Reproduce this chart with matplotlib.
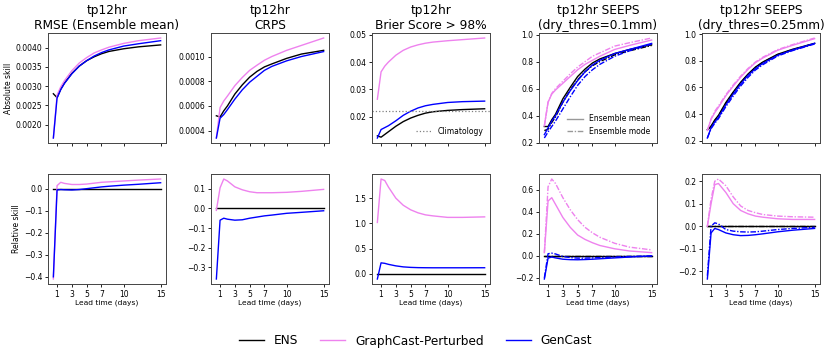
import matplotlib
matplotlib.use("Agg")
import matplotlib.pyplot as plt
from matplotlib.lines import Line2D

# lead times (days)
lt = [0.5, 1, 1.5, 2, 3, 4, 5, 6, 7, 8, 10, 12, 15]
xticks = [1, 3, 5, 7, 10, 15]

# --- RMSE (ensemble mean)
rmse_ens = [0.00280, 0.00270, 0.00292, 0.00308, 0.00333, 0.00352, 0.00366, 0.00376, 0.00384, 0.00390, 0.00397, 0.00402, 0.00407]
rmse_gcp = [0.00165, 0.00277, 0.00298, 0.00314, 0.00340, 0.00360, 0.00374, 0.00386, 0.00394, 0.00401, 0.00411, 0.00418, 0.00425]
rmse_gen = [0.00165, 0.00269, 0.00291, 0.00307, 0.00332, 0.00352, 0.00366, 0.00378, 0.00387, 0.00394, 0.00404, 0.00410, 0.00418]
rmse_gcp_rel = [-0.41, 0.015, 0.03, 0.025, 0.02, 0.02, 0.022, 0.026, 0.03, 0.032, 0.036, 0.04, 0.045]
rmse_gen_rel = [-0.40, -0.005, -0.003, -0.004, -0.005, -0.003, 0.001, 0.005, 0.009, 0.012, 0.017, 0.021, 0.028]

# --- CRPS
crps_ens = [0.00052, 0.00051, 0.00056, 0.00060, 0.000696, 0.00077, 0.000833, 0.00088, 0.000916, 0.00094, 0.000985, 0.00102, 0.00105]
crps_gcp = [0.00034, 0.000586, 0.00064, 0.00068, 0.000764, 0.00083, 0.000888, 0.00093, 0.00097, 0.00100, 0.00105, 0.00109, 0.00115]
crps_gen = [0.00034, 0.00050, 0.00053, 0.00057, 0.000655, 0.00073, 0.000792, 0.00084, 0.000888, 0.00092, 0.000965, 0.00100, 0.00104]
crps_gcp_rel = [-0.01, 0.105, 0.15, 0.14, 0.11, 0.095, 0.085, 0.08, 0.08, 0.08, 0.082, 0.087, 0.097]
crps_gen_rel = [-0.36, -0.06, -0.05, -0.055, -0.06, -0.058, -0.05, -0.044, -0.038, -0.034, -0.025, -0.02, -0.012]

# --- Brier score > 98%
brier_ens = [0.0130, 0.0125, 0.0135, 0.0145, 0.0165, 0.0182, 0.0195, 0.0205, 0.0213, 0.0218, 0.0223, 0.0226, 0.0229]
brier_gcp = [0.0264, 0.0364, 0.0385, 0.0400, 0.0425, 0.0443, 0.0455, 0.0463, 0.0469, 0.0473, 0.0478, 0.0482, 0.0488]
brier_gen = [0.0122, 0.0153, 0.0160, 0.0167, 0.0185, 0.0205, 0.0220, 0.0232, 0.0240, 0.0245, 0.0252, 0.0255, 0.0257]
brier_clim = 0.0221
brier_gcp_rel = [1.02, 1.88, 1.85, 1.72, 1.50, 1.36, 1.27, 1.21, 1.17, 1.15, 1.12, 1.12, 1.13]
brier_gen_rel = [-0.10, 0.22, 0.21, 0.19, 0.16, 0.14, 0.13, 0.125, 0.123, 0.122, 0.122, 0.122, 0.123]

# --- SEEPS dry_thres=0.1mm
s1_ens_mean = [0.32, 0.32, 0.37, 0.41, 0.525, 0.61, 0.69, 0.745, 0.79, 0.82, 0.86, 0.89, 0.925]
s1_ens_mode = [0.29, 0.30, 0.35, 0.39, 0.50, 0.59, 0.665, 0.725, 0.77, 0.80, 0.85, 0.88, 0.92]
s1_gcp_mean = [0.325, 0.50, 0.56, 0.59, 0.64, 0.69, 0.74, 0.78, 0.81, 0.84, 0.89, 0.92, 0.96]
s1_gcp_mode = [0.325, 0.50, 0.565, 0.60, 0.655, 0.71, 0.76, 0.80, 0.84, 0.865, 0.915, 0.94, 0.975]
s1_gen_mean = [0.26, 0.31, 0.36, 0.40, 0.50, 0.585, 0.66, 0.725, 0.775, 0.81, 0.86, 0.89, 0.935]
s1_gen_mode = [0.235, 0.28, 0.32, 0.36, 0.45, 0.54, 0.625, 0.69, 0.74, 0.78, 0.84, 0.88, 0.93]
s1_gcp_mean_rel = [0.03, 0.50, 0.53, 0.47, 0.35, 0.26, 0.19, 0.15, 0.12, 0.095, 0.065, 0.045, 0.03]
s1_gcp_mode_rel = [0.03, 0.63, 0.70, 0.66, 0.53, 0.42, 0.33, 0.26, 0.21, 0.17, 0.115, 0.08, 0.055]
s1_gen_mean_rel = [-0.21, -0.02, -0.01, -0.018, -0.03, -0.034, -0.035, -0.033, -0.03, -0.026, -0.018, -0.01, 0.0]
s1_gen_mode_rel = [-0.20, 0.02, 0.025, 0.018, -0.005, -0.015, -0.02, -0.02, -0.018, -0.015, -0.01, -0.005, 0.0]

# --- SEEPS dry_thres=0.25mm
s2_ens_mean = [0.284, 0.31, 0.355, 0.39, 0.486, 0.565, 0.638, 0.70, 0.752, 0.79, 0.848, 0.885, 0.93]
s2_ens_mode = [0.28, 0.305, 0.35, 0.385, 0.48, 0.56, 0.633, 0.695, 0.748, 0.787, 0.845, 0.882, 0.928]
s2_gcp_mean = [0.276, 0.36, 0.41, 0.45, 0.537, 0.61, 0.676, 0.735, 0.785, 0.82, 0.878, 0.915, 0.965]
s2_gcp_mode = [0.276, 0.365, 0.42, 0.46, 0.545, 0.618, 0.684, 0.742, 0.79, 0.826, 0.883, 0.92, 0.97]
s2_gen_mean = [0.22, 0.296, 0.34, 0.375, 0.468, 0.55, 0.625, 0.69, 0.74, 0.78, 0.84, 0.88, 0.93]
s2_gen_mode = [0.22, 0.29, 0.33, 0.365, 0.455, 0.535, 0.61, 0.675, 0.73, 0.77, 0.835, 0.875, 0.925]
s2_gcp_mean_rel = [0.0, 0.10, 0.185, 0.19, 0.15, 0.10, 0.07, 0.055, 0.045, 0.04, 0.033, 0.03, 0.03]
s2_gcp_mode_rel = [0.0, 0.12, 0.20, 0.21, 0.18, 0.13, 0.09, 0.07, 0.06, 0.052, 0.045, 0.042, 0.04]
s2_gen_mean_rel = [-0.235, -0.03, -0.01, -0.015, -0.03, -0.038, -0.042, -0.041, -0.038, -0.034, -0.025, -0.018, -0.01]
s2_gen_mode_rel = [-0.22, 0.0, 0.015, 0.01, -0.015, -0.022, -0.025, -0.026, -0.025, -0.022, -0.015, -0.01, -0.005]

titles = ["tp12hr\nRMSE (Ensemble mean)", "tp12hr\nCRPS", "tp12hr\nBrier Score > 98%",
          "tp12hr SEEPS\n(dry_thres=0.1mm)", "tp12hr SEEPS\n(dry_thres=0.25mm)"]

C_ENS = "black"
C_GCP = "violet"
C_GEN = "blue"
DASHDOT = (0, (4, 1.2, 1, 1.2))
LW = 1.0
FS = 5.5

fig = plt.figure(figsize=(8.31, 3.59), dpi=100)
lefts = [48, 211, 372, 539, 702]
W, H = 831.0, 359.0
axw = 118 / W
axh = 110 / H

top_axes = []
bot_axes = []
for l in lefts:
    top_axes.append(fig.add_axes([l / W, 1 - 143 / H, axw, axh]))
    bot_axes.append(fig.add_axes([l / W, 1 - 284 / H, axw, axh]))

zeros = [0.0] * len(lt)

# absolute skill row
a = top_axes
a[0].plot(lt, rmse_ens, color=C_ENS, lw=LW)
a[0].plot(lt, rmse_gcp, color=C_GCP, lw=LW)
a[0].plot(lt, rmse_gen, color=C_GEN, lw=LW)

a[1].plot(lt, crps_ens, color=C_ENS, lw=LW)
a[1].plot(lt, crps_gcp, color=C_GCP, lw=LW)
a[1].plot(lt, crps_gen, color=C_GEN, lw=LW)

a[2].plot(lt, brier_ens, color=C_ENS, lw=LW)
a[2].plot(lt, brier_gcp, color=C_GCP, lw=LW)
a[2].plot(lt, brier_gen, color=C_GEN, lw=LW)
a[2].axhline(brier_clim, color="gray", ls=":", lw=0.9, label="Climatology")
a[2].legend(loc="lower right", fontsize=FS, frameon=False)

for ax, ens_m, ens_d, gcp_m, gcp_d, gen_m, gen_d in [
        (a[3], s1_ens_mean, s1_ens_mode, s1_gcp_mean, s1_gcp_mode, s1_gen_mean, s1_gen_mode),
        (a[4], s2_ens_mean, s2_ens_mode, s2_gcp_mean, s2_gcp_mode, s2_gen_mean, s2_gen_mode)]:
    ax.plot(lt, ens_m, color=C_ENS, lw=LW)
    ax.plot(lt, ens_d, color=C_ENS, lw=LW, ls=DASHDOT)
    ax.plot(lt, gcp_m, color=C_GCP, lw=LW)
    ax.plot(lt, gcp_d, color=C_GCP, lw=LW, ls=DASHDOT)
    ax.plot(lt, gen_m, color=C_GEN, lw=LW)
    ax.plot(lt, gen_d, color=C_GEN, lw=LW, ls=DASHDOT)

handles = [Line2D([], [], color="gray", lw=LW, alpha=0.8),
           Line2D([], [], color="gray", lw=LW, ls=DASHDOT, alpha=0.8)]
a[3].legend(handles, ["Ensemble mean", "Ensemble mode"], loc="lower right",
            fontsize=FS, frameon=False)

# relative skill row
b = bot_axes
for ax, gcp, gen in [(b[0], rmse_gcp_rel, rmse_gen_rel),
                     (b[1], crps_gcp_rel, crps_gen_rel),
                     (b[2], brier_gcp_rel, brier_gen_rel)]:
    ax.plot(lt, zeros, color=C_ENS, lw=LW)
    ax.plot(lt, gcp, color=C_GCP, lw=LW)
    ax.plot(lt, gen, color=C_GEN, lw=LW)

for ax, gm, gd, bm, bd in [(b[3], s1_gcp_mean_rel, s1_gcp_mode_rel, s1_gen_mean_rel, s1_gen_mode_rel),
                           (b[4], s2_gcp_mean_rel, s2_gcp_mode_rel, s2_gen_mean_rel, s2_gen_mode_rel)]:
    ax.plot(lt, zeros, color=C_ENS, lw=LW)
    ax.plot(lt, zeros, color=C_ENS, lw=LW, ls=DASHDOT)
    ax.plot(lt, gm, color=C_GCP, lw=LW)
    ax.plot(lt, gd, color=C_GCP, lw=LW, ls=DASHDOT)
    ax.plot(lt, bm, color=C_GEN, lw=LW)
    ax.plot(lt, bd, color=C_GEN, lw=LW, ls=DASHDOT)

for i in range(5):
    top_axes[i].set_title(titles[i], fontsize=8.7, pad=3)
    top_axes[i].set_xticks(xticks)
    top_axes[i].set_xticklabels([])
    bot_axes[i].set_xticks(xticks)
    bot_axes[i].set_xlabel("Lead time (days)", fontsize=5.4, labelpad=1)
    for ax in (top_axes[i], bot_axes[i]):
        ax.tick_params(labelsize=FS, length=2.5, width=0.6, pad=1.5)
        for s in ax.spines.values():
            s.set_linewidth(0.7)
            s.set_color("#444444")

top_axes[0].set_ylabel("Absolute skill", fontsize=FS, labelpad=2)
bot_axes[0].set_ylabel("Relative skill", fontsize=FS, labelpad=2)

leg_handles = [Line2D([], [], color=C_ENS, lw=LW),
               Line2D([], [], color=C_GCP, lw=LW),
               Line2D([], [], color=C_GEN, lw=LW)]
fig.legend(leg_handles, ["ENS", "GraphCast-Perturbed", "GenCast"], loc="center",
           bbox_to_anchor=(0.5, 1 - 341 / H), ncol=3, fontsize=8.7, frameon=False,
           handlelength=2.1, columnspacing=1.8)

fig.savefig("out.png", dpi=100)
